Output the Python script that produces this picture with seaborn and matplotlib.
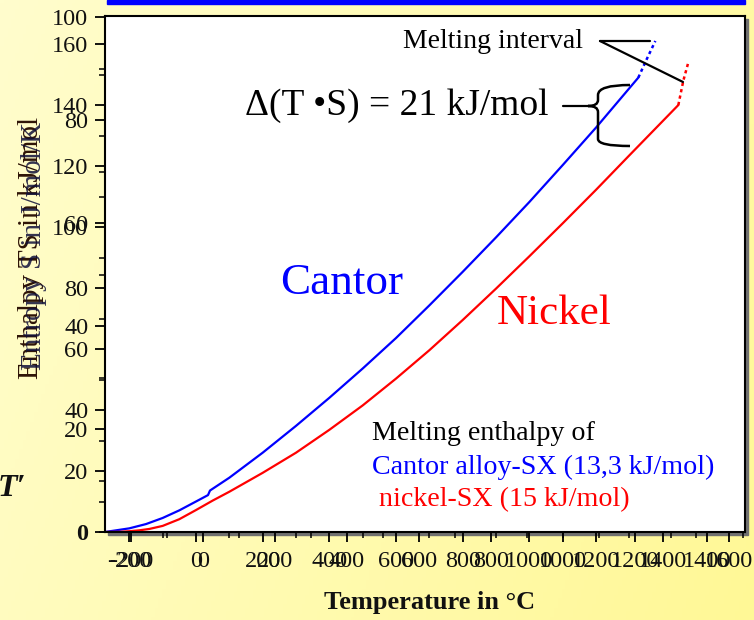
import numpy as np
import matplotlib
matplotlib.use('Agg')
import matplotlib.pyplot as plt
import seaborn as sns
from matplotlib.path import Path
from matplotlib.patches import PathPatch, Rectangle
from matplotlib.lines import Line2D
from matplotlib.ticker import MultipleLocator

# ---------------- data ----------------
cantor_temp = [-273, -200, -150, -100, -50, 0, 36, 42, 100, 200, 300, 400, 500,
               600, 700, 800, 900, 1000, 1100, 1200, 1327]
cantor_ts = [0.0, 1.2, 2.6, 4.6, 7.1, 10.0, 12.1, 13.6, 17.8, 26.0, 34.8, 44.0,
             53.6, 63.6, 74.3, 85.3, 96.6, 108.2, 120.3, 132.6, 149.0]
cantor_melt_temp = [1327, 1352, 1378]
cantor_melt_ts = [149.0, 155.0, 161.0]

nickel_temp = [-273, -230, -200, -170, -140, -100, -50, 0, 50, 100, 200, 300, 400,
               500, 600, 700, 800, 900, 1000, 1100, 1200, 1300, 1447]
nickel_ts = [0.0, 0.05, 0.25, 0.55, 1.0, 2.0, 4.2, 7.2, 10.3, 13.2, 19.4, 26.0,
             33.5, 41.5, 50.3, 59.6, 69.5, 79.8, 90.4, 101.2, 112.2, 123.5, 140.0]
nickel_melt_temp = [1447, 1462, 1477]
nickel_melt_ts = [140.0, 148.0, 154.0]

xticks_a = [-200, 0, 200, 400, 600, 800, 1000, 1200, 1400, 1600]
xticks_b = [-200, 0, 200, 400, 600, 800, 1000, 1200, 1400]
yticks_a = [0, 20, 40, 60, 80, 100, 120, 140, 160]
yticks_b = [20, 40, 60, 80, 100]

# ---------------- style ----------------
sns.set_theme(style='ticks')
plt.rcParams['font.family'] = ['Liberation Serif', 'DejaVu Serif']

W, H = 754, 620
fig = plt.figure(figsize=(7.54, 6.2), dpi=100)


def fx(x):
    return x / W


def fy(y):
    return 1 - y / H


# background gradient
bg = fig.add_axes([0, 0, 1, 1], zorder=-10)
gx = np.linspace(0, 1, 200)
gy = np.linspace(0, 1, 200)
GX, GY = np.meshgrid(gx, gy)
t = np.clip(0.75 * GX + 0.25 * GY, 0, 1)
c0 = np.array([255, 253, 205]) / 255
c1 = np.array([255, 248, 150]) / 255
img = c0[None, None, :] * (1 - t[..., None]) + c1[None, None, :] * t[..., None]
bg.imshow(img, aspect='auto', extent=[0, 1, 0, 1], origin='upper')
bg.axis('off')

L, T, R, B = 105, 16, 745, 532
pos = [fx(L), fy(B), fx(R) - fx(L), (B - T) / H]

# shadow and top bar
fig.patches.append(Rectangle((fx(L + 3), fy(B + 3)), pos[2], pos[3],
                             transform=fig.transFigure, color='#707070', zorder=-5))
fig.patches.append(Rectangle((fx(107), fy(4)), fx(745) - fx(107), 4 / H,
                             transform=fig.transFigure, color='#0000ff', zorder=5))

ax = fig.add_axes(pos)
ax.set_facecolor('white')
ax.set_xlim(-273, 1647)
ax.set_ylim(0, 169.2)

sns.lineplot(x=cantor_temp, y=cantor_ts, ax=ax, color='#0000ff', lw=1.6,
             estimator=None, sort=False)
sns.lineplot(x=nickel_temp, y=nickel_ts, ax=ax, color='#ff0000', lw=1.6,
             estimator=None, sort=False)
sns.lineplot(x=cantor_melt_temp, y=cantor_melt_ts, ax=ax, color='#0000ff', lw=1.8,
             estimator=None, sort=False)
ax.lines[-1].set_linestyle((0, (1.3, 1.3)))
sns.lineplot(x=nickel_melt_temp, y=nickel_melt_ts, ax=ax, color='#ff0000', lw=1.8,
             estimator=None, sort=False)
ax.lines[-1].set_linestyle((0, (1.3, 1.3)))

for s in ax.spines.values():
    s.set_visible(True)
    s.set_color('black')
    s.set_linewidth(1.5)

TICK_FS = 17.5
ax.set_xticks(xticks_a)
ax.set_xticklabels([str(v) for v in xticks_a])
ax.set_yticks(yticks_a)
ax.set_yticklabels([str(v) for v in yticks_a])
ax.get_yticklabels()[0].set_fontweight('bold')
ax.xaxis.set_minor_locator(MultipleLocator(100))
ax.yaxis.set_minor_locator(MultipleLocator(10))
ax.tick_params(axis='both', which='major', direction='out', length=7, width=1.3,
               labelsize=TICK_FS, color='black', labelcolor='#111111',
               left=True, bottom=True, right=False, top=False)
ax.tick_params(axis='both', which='minor', direction='out', length=4, width=1.1,
               color='black', left=True, bottom=True, right=False, top=False)
ax.tick_params(axis='x', which='major', pad=7)
ax.tick_params(axis='y', which='major', pad=5)
ax.set_xlabel('')
ax.set_ylabel('')

# second overlapping axis set
ax2 = fig.add_axes(pos, frameon=False)
ax2.patch.set_visible(False)
ax2.set_xlim(-272, 1505.6)
ax2.set_ylim(0, 100.2)
ax2.set_xticks(xticks_b)
ax2.set_xticklabels([str(v) for v in xticks_b])
ax2.set_yticks(yticks_b)
ax2.set_yticklabels([str(v) for v in yticks_b])
ax2.xaxis.set_minor_locator(MultipleLocator(100))
ax2.yaxis.set_minor_locator(MultipleLocator(10))
ax2.tick_params(axis='both', which='major', direction='out', length=7, width=1.3,
                labelsize=TICK_FS, color='black', labelcolor='#111111',
                left=True, bottom=True, right=False, top=False)
ax2.tick_params(axis='both', which='minor', direction='out', length=4, width=1.1,
                color='black', left=True, bottom=True, right=False, top=False)
ax2.tick_params(axis='x', which='major', pad=7)
ax2.tick_params(axis='y', which='major', pad=5)

# ---------------- texts ----------------
fig.text(fx(430), fy(603), 'Temperature in °C', ha='center', va='center',
         fontsize=19, fontweight='bold', color='#111111')
fig.text(fx(31), fy(248), 'Enthalpy TS in kJ/mol', ha='center', va='center',
         rotation=90, fontsize=21, color='#2e1406')
fig.text(fx(34), fy(246), 'Entropy S in J/mol/K', ha='center', va='center',
         rotation=90, fontsize=21, color='#10103a', alpha=0.85)
fig.text(fx(-2), fy(488), 'T′', ha='left', va='center', fontsize=23,
         fontweight='bold', fontstyle='italic', color='#111111')

fig.text(fx(403), fy(42), 'Melting interval', ha='left', va='center',
         fontsize=20, color='black')
fig.text(fx(245), fy(106), 'Δ(T •S) = 21 kJ/mol', ha='left', va='center',
         fontsize=27, color='black')
fig.text(fx(280), fy(283), 'Cantor', ha='left', va='center', fontsize=32.5,
         color='#0000ff')
fig.text(fx(497), fy(314), 'Nickel', ha='left', va='center', fontsize=31,
         color='#ff0000')
fig.text(fx(372), fy(433), 'Melting enthalpy of', ha='left', va='center',
         fontsize=20.2, color='black')
fig.text(fx(372), fy(467), 'Cantor alloy-SX (13,3 kJ/mol)', ha='left',
         va='center', fontsize=20.2, color='#0000ff')
fig.text(fx(372), fy(500), ' nickel-SX (15 kJ/mol)', ha='left', va='center',
         fontsize=20.2, color='#ff0000')

# annotation lines
for (x0, y0, x1, y1) in [(600, 41, 650, 41), (600, 41, 683, 82), (563, 106, 588, 106)]:
    fig.lines.append(Line2D([fx(x0), fx(x1)], [fy(y0), fy(y1)],
                            transform=fig.transFigure, color='black', lw=1.6))

verts = [(630, 85), (598, 85), (598, 95),
         (598, 100),
         (598, 106), (588, 106),
         (598, 106), (598, 112),
         (598, 139),
         (598, 146), (630, 146)]
codes = [Path.MOVETO, Path.CURVE3, Path.CURVE3,
         Path.LINETO,
         Path.CURVE3, Path.CURVE3,
         Path.CURVE3, Path.CURVE3,
         Path.LINETO,
         Path.CURVE3, Path.CURVE3]
brace = Path([(fx(a), fy(b)) for a, b in verts], codes)
fig.patches.append(PathPatch(brace, transform=fig.transFigure, fill=False,
                             edgecolor='black', lw=1.8, zorder=6))

fig.savefig('out.png', dpi=100)
